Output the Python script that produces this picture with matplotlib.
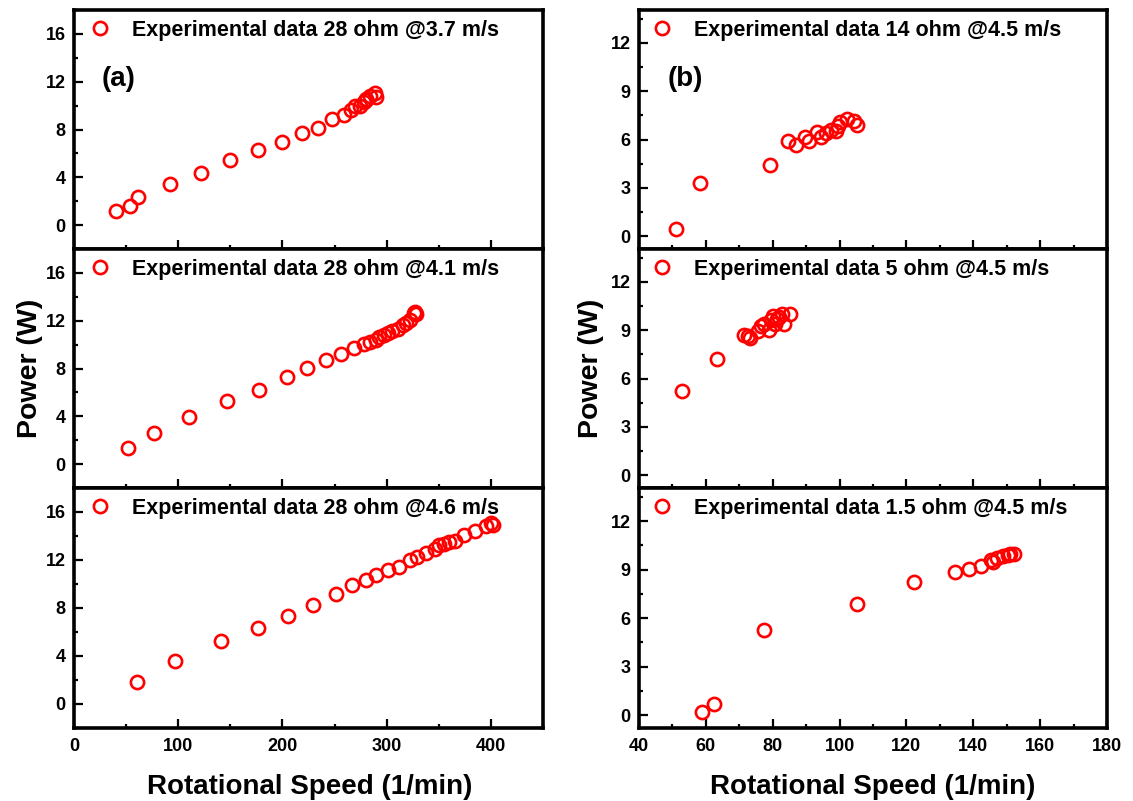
import matplotlib
matplotlib.use("Agg")
import matplotlib.pyplot as plt
from matplotlib.ticker import MultipleLocator

plt.rcParams['font.family'] = ['Liberation Sans', 'DejaVu Sans']
plt.rcParams['font.weight'] = 'bold'

# ---- data ----
x_a1 = [40.1, 53.5, 61.5, 92.3, 121.5, 149.4, 176.9, 199.7, 218.3, 234.3, 248, 259, 266, 269.2, 274, 277.9, 280.4, 284.3, 288.5, 289.7, 280]
y_a1 = [1.14, 1.58, 2.33, 3.44, 4.39, 5.42, 6.28, 6.97, 7.72, 8.14, 8.89, 9.19, 9.67, 10.0, 9.94, 10.33, 10.56, 10.78, 11.06, 10.69, 10.5]

x_a2 = [51.9, 76.6, 109.9, 147.1, 177.6, 204.1, 223.7, 241.7, 255.8, 268.6, 278.2, 284.3, 289.7, 293, 297, 300.9, 305, 310.9, 315.4, 318.6, 322.8, 326, 328.2, 327]
y_a2 = [1.36, 2.58, 3.92, 5.31, 6.19, 7.25, 8.03, 8.67, 9.19, 9.69, 10.03, 10.22, 10.39, 10.61, 10.81, 10.97, 11.17, 11.31, 11.61, 11.81, 12.06, 12.64, 12.53, 12.75]

x_a3 = [60.9, 96.5, 141.3, 176.3, 205.1, 229.5, 251.3, 267, 279.8, 289.7, 301, 311.5, 322.4, 328.8, 337.5, 346.2, 350.6, 354.8, 359.6, 365.4, 374, 384.3, 394.9, 399.7, 401.9]
y_a3 = [1.86, 3.56, 5.22, 6.33, 7.33, 8.25, 9.19, 9.94, 10.33, 10.75, 11.17, 11.44, 11.97, 12.25, 12.58, 12.89, 13.22, 13.31, 13.47, 13.58, 14.08, 14.44, 14.83, 15.11, 14.94]

x_b1 = [51.1, 58.3, 79.2, 84.7, 87.1, 89.8, 91.0, 93.3, 94.5, 95.8, 97.3, 98.8, 99.6, 100.1, 102.3, 104.3, 105.1]
y_b1 = [0.45, 3.32, 4.41, 5.89, 5.69, 6.14, 5.89, 6.45, 6.14, 6.41, 6.62, 6.51, 6.82, 7.07, 7.28, 7.13, 6.93]

x_b2 = [53.0, 63.3, 71.4, 72.6, 73.2, 75.7, 76.4, 77.4, 78.9, 79.4, 80.2, 80.7, 81.4, 81.9, 82.9, 83.4, 85.2]
y_b2 = [5.24, 7.20, 8.70, 8.66, 8.50, 8.93, 9.28, 9.38, 9.01, 9.63, 9.90, 9.38, 9.69, 9.83, 10.0, 9.38, 10.0]

x_b3 = [58.7, 62.3, 77.5, 105.1, 122.4, 134.4, 138.8, 142.3, 145.3, 146.0, 147.0, 149.0, 150.3, 151.0, 152.2]
y_b3 = [0.20, 0.66, 5.24, 6.85, 8.24, 8.84, 9.02, 9.25, 9.57, 9.48, 9.73, 9.83, 9.88, 9.94, 9.98]

labels_a = ["Experimental data 28 ohm @3.7 m/s",
            "Experimental data 28 ohm @4.1 m/s",
            "Experimental data 28 ohm @4.6 m/s"]
labels_b = ["Experimental data 14 ohm @4.5 m/s",
            "Experimental data 5 ohm @4.5 m/s",
            "Experimental data 1.5 ohm @4.5 m/s"]

xlabel = "Rotational Speed (1/min)"
ylabel = "Power (W)"

W, H = 1133, 801
fig = plt.figure(figsize=(W / 100, H / 100), dpi=100)

def fx(px):
    return px / W

def fy(py):
    return 1 - py / H

cols = [(74, 543), (639, 1107)]
rows = [(10, 249), (249, 488), (488, 728)]

data_a = [(x_a1, y_a1), (x_a2, y_a2), (x_a3, y_a3)]
data_b = [(x_b1, y_b1), (x_b2, y_b2), (x_b3, y_b3)]

def style(ax, xlim, ylim, xmaj, xmin, ymaj, ymin, show_x):
    ax.set_xlim(*xlim)
    ax.set_ylim(*ylim)
    ax.xaxis.set_major_locator(MultipleLocator(xmaj))
    ax.xaxis.set_minor_locator(MultipleLocator(xmin))
    ax.yaxis.set_major_locator(MultipleLocator(ymaj))
    ax.yaxis.set_minor_locator(MultipleLocator(ymin))
    ax.tick_params(which='both', direction='in', top=False, right=False,
                   labelsize=13, width=1.6)
    ax.tick_params(which='major', length=6.5)
    ax.tick_params(which='minor', length=3.2)
    ax.tick_params(axis='x', which='both', pad=7.5)
    ax.tick_params(axis='y', which='both', pad=6)
    if not show_x:
        ax.tick_params(axis='x', labelbottom=False)
    for s in ax.spines.values():
        s.set_linewidth(2.6)
    for lab in ax.get_xticklabels() + ax.get_yticklabels():
        lab.set_fontweight('bold')

axes_a, axes_b = [], []
for ci, (x0, x1) in enumerate(cols):
    for ri, (y0, y1) in enumerate(rows):
        ax = fig.add_axes([fx(x0), fy(y1), fx(x1 - x0), (y1 - y0) / H])
        if ci == 0:
            xs, ys = data_a[ri]
            lab = labels_a[ri]
            style(ax, (0, 450), (-2, 18), 100, 50, 4, 2, ri == 2)
            axes_a.append(ax)
            dx = 10
        else:
            xs, ys = data_b[ri]
            lab = labels_b[ri]
            style(ax, (40, 180), (-0.8, 14.05), 20, 10, 3, 1.5, ri == 2)
            axes_b.append(ax)
            dx = 7
        ax.plot(xs, ys, linestyle='none', marker='o', markersize=9.5,
                markerfacecolor='none', markeredgecolor='red', markeredgewidth=1.9,
                label=lab)
        ax.legend(loc='upper left', bbox_to_anchor=(dx / (x1 - x0), 1 - 10 / (y1 - y0)),
                  frameon=False, prop={'weight': 'bold', 'size': 15.5},
                  handletextpad=0.72, borderaxespad=0, borderpad=0,
                  handlelength=1.5)

axes_a[0].text(0.058, 0.71, "(a)", transform=axes_a[0].transAxes,
               fontsize=20, fontweight='bold', va='center', ha='left')
axes_b[0].text(0.062, 0.71, "(b)", transform=axes_b[0].transAxes,
               fontsize=20, fontweight='bold', va='center', ha='left')

fig.text(fx(30), fy(368), ylabel, rotation=90, fontsize=20.5, fontweight='bold',
         ha='center', va='center')
fig.text(fx(591), fy(368), ylabel, rotation=90, fontsize=20.5, fontweight='bold',
         ha='center', va='center')
fig.text(fx(310), fy(787), xlabel, fontsize=20, fontweight='bold',
         ha='center', va='center')
fig.text(fx(873), fy(787), xlabel, fontsize=20, fontweight='bold',
         ha='center', va='center')

fig.savefig("out.png", dpi=100)
